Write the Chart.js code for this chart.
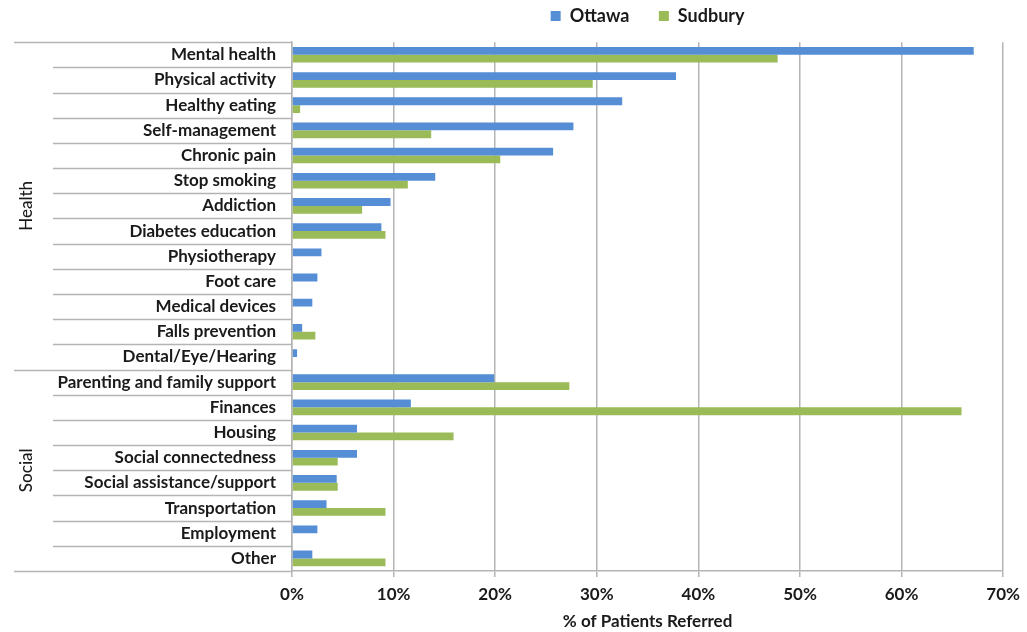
<!DOCTYPE html>
<html>
<head>
<meta charset="utf-8">
<script src="https://cdn.jsdelivr.net/npm/chart.js@4"></script>
<style>
html,body{margin:0;padding:0;background:#fff;}
#wrap{width:1027px;height:632px;}
</style>
</head>
<body>
<div id="wrap"><canvas id="c" width="1027" height="632"></canvas></div>
<script>
const categories = [
  "Mental health","Physical activity","Healthy eating","Self-management","Chronic pain",
  "Stop smoking","Addiction","Diabetes education","Physiotherapy","Foot care",
  "Medical devices","Falls prevention","Dental/Eye/Hearing",
  "Parenting and family support","Finances","Housing","Social connectedness",
  "Social assistance/support","Transportation","Employment","Other"
];
const ottawa = [67.1,37.8,32.5,27.7,25.7,14.1,9.7,8.8,2.9,2.5,2.0,1.0,0.5,
                19.9,11.7,6.4,6.4,4.4,3.4,2.5,2.0];
const sudbury = [47.8,29.6,0.8,13.7,20.5,11.4,6.9,9.2,0,0,0,2.3,0,
                 27.3,65.9,15.9,4.5,4.5,9.2,0,9.2];
const groups = [
  {label:"Health", start:0, end:12},
  {label:"Social", start:13, end:20}
];
const xTicks = [0,10,20,30,40,50,60,70];

const FONT = "Lato, 'Open Sans', sans-serif";

const groupPlugin = {
  id:'groupLines',
  afterDraw(chart){
    const ctx = chart.ctx;
    const ys = chart.scales.y;
    const left = chart.chartArea.left;
    const n = categories.length;
    const step = (ys.getPixelForValue(1) - ys.getPixelForValue(0));
    const boundary = i => ys.getPixelForValue(i) - step/2;
    const groupEdges = new Set();
    groups.forEach(g=>{groupEdges.add(g.start); groupEdges.add(g.end+1);});
    ctx.save();
    ctx.strokeStyle = '#b4b4b4';
    ctx.lineWidth = 1.5;
    for(let i=0;i<=n;i++){
      const y = Math.round(boundary(i))+0.5;
      const x0 = groupEdges.has(i) ? 14 : 53;
      ctx.beginPath();
      ctx.moveTo(x0,y);
      ctx.lineTo(left,y);
      ctx.stroke();
    }
    ctx.fillStyle = '#1a1a1a';
    ctx.font = "500 17px " + FONT;
    ctx.textAlign = 'center';
    ctx.textBaseline = 'middle';
    groups.forEach(g=>{
      const yc = (boundary(g.start) + boundary(g.end+1))/2;
      ctx.save();
      ctx.translate(27, yc);
      ctx.rotate(-Math.PI/2);
      ctx.fillText(g.label, 0, 0);
      ctx.restore();
    });
    ctx.restore();
  }
};

new Chart(document.getElementById('c'), {
  type:'bar',
  data:{
    labels:categories,
    datasets:[
      {label:'Ottawa', data:ottawa, backgroundColor:'#558ed5', borderWidth:0,
       categoryPercentage:0.62, barPercentage:1.0},
      {label:'Sudbury', data:sudbury, backgroundColor:'#9bbb59', borderWidth:0,
       categoryPercentage:0.62, barPercentage:1.0}
    ]
  },
  options:{
    indexAxis:'y',
    responsive:false,
    animation:false,
    devicePixelRatio:1,
    layout:{padding:{top:0,right:19,bottom:0,left:0}},
    plugins:{
      legend:{
        position:'top',
        fullSize:false,
        labels:{
          boxWidth:10, boxHeight:10, padding:7,
          color:'#1a1a1a',
          font:{family:FONT, size:18, weight:'bold'},
          generateLabels(chart){
            const items = Chart.defaults.plugins.legend.labels.generateLabels(chart);
            items.forEach((it,i)=>{ if(i < items.length-1) it.text = it.text + '\u2003\u2002'; });
            return items;
          }
        }
      },
      title:{
        display:true, text:'', weight:500, position:'top',
        font:{size:1}, padding:{top:0,bottom:6}
      },
      tooltip:{enabled:false}
    },
    scales:{
      x:{
        min:0, max:70,
        afterBuildTicks(scale){ scale.ticks = xTicks.map(v=>({value:v})); },
        ticks:{
          callback:v=>v+'%',
          color:'#1a1a1a',
          padding:7,
          font:{family:FONT, size:17, weight:'bold'}
        },
        grid:{color:'#b4b4b4', lineWidth:1.5, tickLength:6, drawTicks:true},
        border:{color:'#b4b4b4', width:1.5},
        title:{display:true, text:'% of Patients Referred', color:'#1a1a1a',
               padding:{top:4,bottom:0},
               font:{family:FONT, size:17, weight:'bold'}},
        afterFit(scale){ scale.height = 632 - 571; }
      },
      y:{
        ticks:{
          color:'#1a1a1a',
          padding:16,
          autoSkip:false,
          font:{family:FONT, size:17, weight:'bold'}
        },
        grid:{display:false, drawTicks:false},
        border:{display:true, color:'#b4b4b4', width:1.5},
        afterFit(scale){ scale.width = 292; }
      }
    }
  },
  plugins:[groupPlugin]
});
</script>
</body>
</html>
